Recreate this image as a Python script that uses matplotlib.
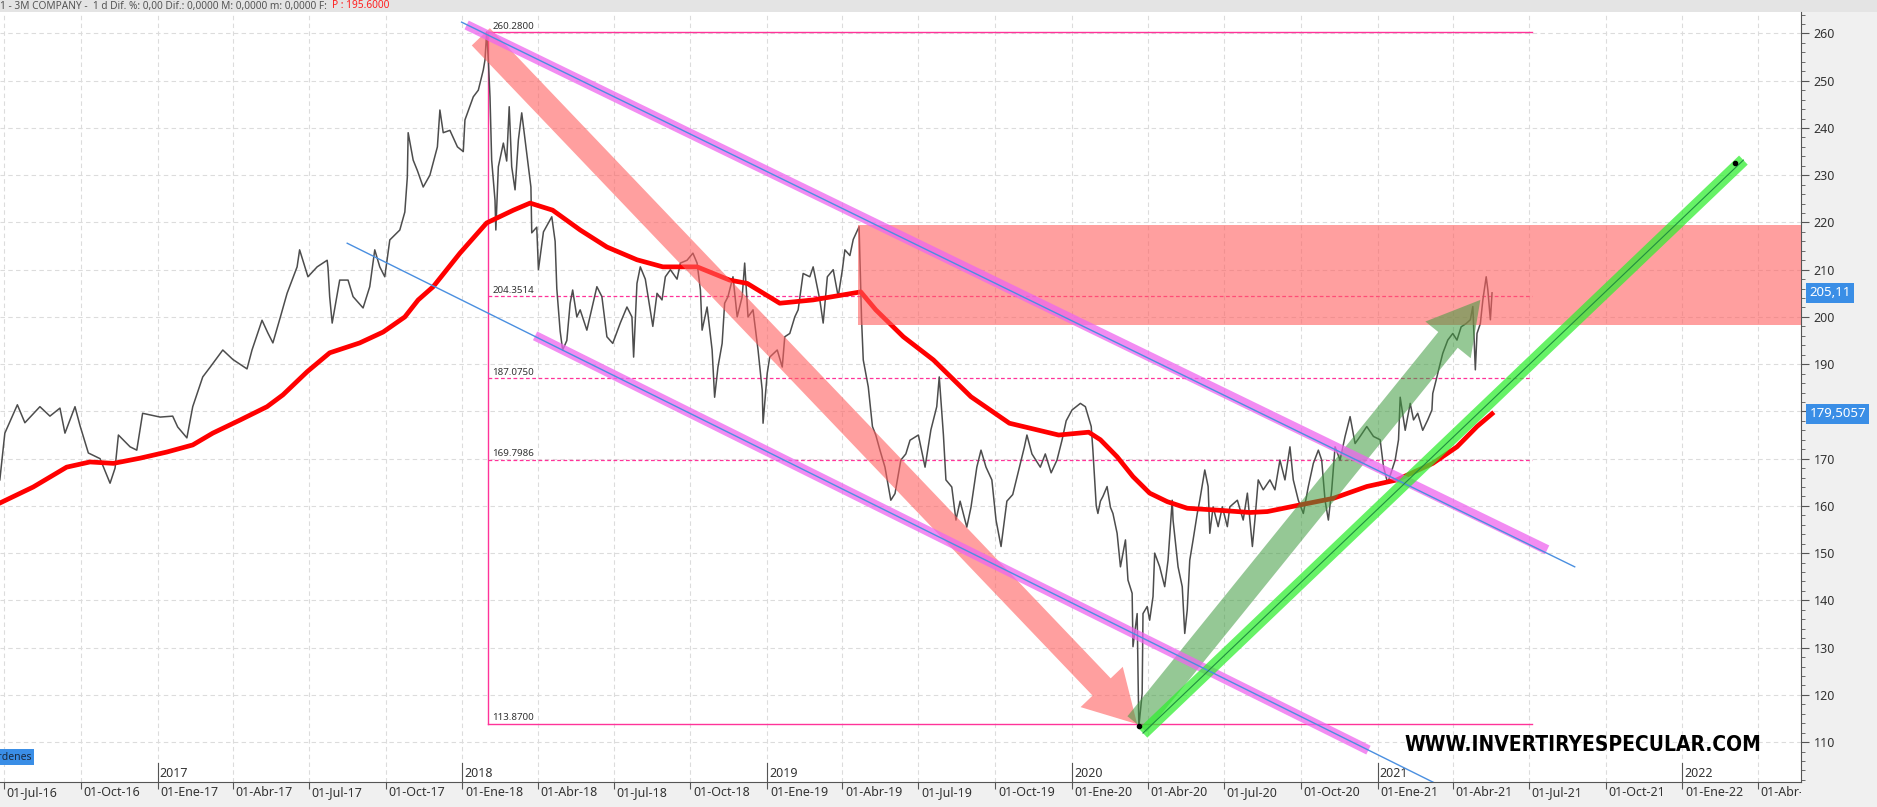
import pandas as pd
import matplotlib
matplotlib.use('Agg')
import matplotlib.pyplot as plt
from matplotlib.patches import FancyArrowPatch, ArrowStyle, Rectangle
from matplotlib.ticker import MultipleLocator
from matplotlib.transforms import Bbox, TransformedBbox
from matplotlib import font_manager

# ---- datos (dias desde 01-Jul-16) ----
base = pd.Timestamp('2016-07-01')

price_day = [-5, 1, 16, 25, 43, 55, 67, 73, 85, 91, 101, 115, 127, 133, 137, 151, 159, 166, 187, 202,
             208, 219, 226, 238, 247, 262, 274, 291, 297, 309, 316, 322, 331, 339, 351, 354, 364, 375, 387, 388,
             390, 393, 402, 412, 418, 430, 438, 444, 450, 456, 462, 474, 480, 483, 484, 490, 495, 502, 510, 519,
             522, 526, 534, 543, 550, 552, 562, 568, 574, 576, 578, 580, 582, 584, 588, 589, 592, 598, 602, 605,
             608, 612, 616, 620, 624, 628, 631, 632, 638, 640, 646, 656, 660, 662, 666, 669, 674, 678, 681, 686,
             690, 698, 710, 716, 722, 729, 738, 746, 752, 754, 758, 762, 768, 774, 777, 782, 788, 792, 798, 806,
             810, 818, 825, 830, 834, 836, 842, 848, 851, 855, 860, 863, 867, 873, 878, 884, 887, 891, 897, 903,
             908, 909, 914, 917, 926, 932, 935, 941, 947, 951, 957, 965, 969, 977, 981, 986, 993, 999, 1004, 1007,
             1013, 1017, 1024, 1027, 1029, 1035, 1040, 1044, 1049, 1055, 1062, 1067, 1074, 1080, 1085, 1095, 1103, 1110, 1117, 1120,
             1125, 1128, 1135, 1140, 1145, 1153, 1158, 1165, 1170, 1176, 1183, 1188, 1194, 1201, 1208, 1216, 1222, 1225, 1231, 1241,
             1247, 1254, 1261, 1267, 1272, 1279, 1289, 1295, 1302, 1304, 1308, 1310, 1313, 1316, 1321, 1325, 1328, 1333, 1337, 1343,
             1346, 1351, 1352, 1357, 1359, 1363, 1364, 1369, 1372, 1376, 1378, 1384, 1390, 1394, 1399, 1400, 1406, 1411, 1414, 1417,
             1420, 1424, 1429, 1432, 1438, 1442, 1444, 1448, 1454, 1459, 1465, 1468, 1477, 1484, 1489, 1495, 1498, 1502, 1508, 1516,
             1522, 1528, 1534, 1540, 1544, 1550, 1556, 1562, 1568, 1574, 1578, 1582, 1586, 1590, 1594, 1600, 1606, 1612, 1618, 1624,
             1632, 1640, 1648, 1652, 1657, 1666, 1670, 1672, 1678, 1684, 1688, 1693, 1699, 1705, 1710, 1711, 1715, 1719, 1723, 1729,
             1735, 1740, 1745, 1751, 1756, 1759, 1762, 1764, 1768, 1771, 1775, 1777, 1780, 1782]
price_val = [165.5, 175.4, 181.4, 177.6, 181.0, 179.0, 180.7, 175.4, 181.0, 177.0, 171.2, 170.0, 164.8, 168.0, 175.0, 172.5, 171.8, 179.6, 178.8, 179.0,
             176.7, 174.4, 181.0, 187.3, 189.4, 193.0, 191.0, 189.0, 193.0, 199.3, 196.6, 194.5, 200.0, 205.0, 210.6, 214.2, 208.5, 210.6, 212.0, 210.4,
             204.3, 198.7, 207.8, 207.8, 204.3, 201.9, 206.4, 214.2, 210.6, 208.5, 216.3, 218.4, 222.2, 229.6, 239.0, 233.2, 231.0, 227.5, 230.0, 236.0,
             243.8, 239.0, 239.5, 236.0, 235.0, 241.7, 246.6, 248.0, 252.3, 254.4, 260.3, 254.4, 246.6, 233.2, 224.7, 218.4, 231.8, 236.8, 233.0, 244.5,
             231.8, 226.9, 237.5, 243.2, 237.5, 231.8, 227.5, 217.8, 219.0, 210.0, 218.0, 221.2, 216.0, 206.0, 197.0, 193.0, 195.0, 202.9, 205.7, 200.0,
             201.5, 197.2, 206.4, 204.3, 195.8, 194.4, 198.7, 202.1, 200.0, 191.5, 207.1, 210.6, 208.0, 201.4, 198.0, 205.0, 203.6, 208.5, 210.0, 208.0,
             211.4, 212.0, 213.5, 211.4, 205.7, 197.2, 202.1, 193.0, 183.0, 189.4, 194.4, 202.9, 204.3, 208.5, 200.0, 204.3, 211.4, 200.0, 201.5, 193.0,
             184.5, 177.5, 188.1, 191.5, 193.0, 189.4, 195.8, 196.5, 200.0, 201.5, 209.2, 208.5, 210.6, 203.6, 198.7, 208.5, 210.0, 204.3, 210.0, 214.2,
             213.0, 216.4, 219.1, 199.3, 190.9, 185.2, 176.8, 175.0, 171.8, 168.2, 161.2, 162.6, 169.7, 171.0, 173.9, 175.0, 168.2, 176.1, 181.0, 187.3,
             175.0, 165.5, 164.0, 157.0, 161.0, 155.5, 159.7, 168.2, 171.8, 168.2, 165.5, 157.0, 151.4, 161.0, 162.4, 168.2, 172.5, 175.0, 171.0, 168.2,
             171.0, 167.0, 169.7, 173.9, 178.0, 180.3, 181.7, 181.0, 176.8, 171.8, 160.0, 158.4, 161.0, 162.0, 164.1, 159.7, 158.4, 154.2, 147.1, 152.8,
             144.3, 141.5, 130.2, 137.2, 113.2, 120.3, 137.2, 138.7, 135.8, 140.8, 150.0, 147.1, 142.9, 148.5, 161.2, 157.0, 147.1, 142.9, 133.0, 138.0,
             148.5, 152.8, 158.4, 161.2, 167.6, 164.1, 154.2, 159.8, 155.6, 159.8, 155.6, 159.8, 161.2, 157.0, 162.7, 151.4, 157.0, 165.5, 163.4, 165.5,
             163.4, 169.7, 165.5, 172.5, 165.5, 161.2, 158.4, 164.1, 169.0, 171.8, 169.7, 161.2, 157.0, 163.4, 172.5, 169.7, 174.7, 178.9, 173.2, 174.7,
             176.8, 174.7, 174.0, 168.3, 164.8, 169.7, 174.0, 183.0, 176.0, 181.7, 178.2, 179.6, 176.0, 178.2, 180.3, 183.8, 186.6, 189.5, 192.3, 195.1,
             196.5, 195.1, 197.9, 198.6, 199.4, 202.2, 188.8, 196.5, 198.6, 203.6, 208.5, 205.7, 199.4, 205.1]

# media movil (linea roja)
ma_day = [-5, 35, 75, 103, 131, 163, 195, 226, 250, 283, 315, 334, 363, 390, 426, 454, 480, 496, 514, 546,
          578, 610, 630, 657, 690, 722, 758, 789, 830, 869, 890, 929, 969, 1026, 1044, 1077, 1113, 1158, 1204, 1263,
          1299, 1313, 1333, 1352, 1372, 1393, 1417, 1453, 1492, 1513, 1552, 1592, 1632, 1668, 1711, 1740, 1764, 1782]
ma_val = [160.6, 164.0, 168.2, 169.3, 169.0, 170.1, 171.4, 172.9, 175.4, 178.2, 181.0, 183.5, 188.4, 192.4, 194.5, 196.8, 200.0, 203.6, 206.4, 213.5,
          219.9, 222.6, 224.1, 222.6, 218.4, 214.8, 212.1, 210.6, 210.6, 207.8, 207.1, 202.9, 203.6, 205.3, 201.5, 195.8, 190.9, 183.1, 177.5, 175.0,
          175.6, 174.0, 170.4, 166.2, 162.7, 160.9, 159.5, 159.1, 158.6, 158.8, 160.2, 161.6, 164.1, 165.5, 169.0, 172.5, 176.8, 179.5]

# retroceso de Fibonacci
fib_levels = [260.28, 204.3514, 187.075, 169.7986, 113.87]
fib_labels = ['260.2800', '204.3514', '187.0750', '169.7986', '113.8700']
fib_span = [580, 1830]

# zona de resistencia
zone_start = 1023
zone_low, zone_high = 198.2, 219.5

# lineas de tendencia y flechas (dia, valor)
upper_band_day, upper_band_val = [554, 1848], [261.8, 150.7]
upper_blue_day, upper_blue_val = [548, 1881], [262.4, 147.1]
lower_band_day, lower_band_val = [636, 1634], [196.0, 108.3]
lower_blue_day, lower_blue_val = [411, 1732], [215.6, 99.7]
green_day, green_val = [1364, 2083], [111.9, 233.2]
dot_day, dot_val = [1359, 2073], [113.3, 232.6]
red_arrow_day, red_arrow_val = [571, 1357], [259.3, 113.8]
green_arrow_day, green_arrow_val = [1357, 1768], [113.8, 203.6]

last_price = 205.11
last_ma = 179.5057

meses = {1: 'Ene', 4: 'Abr', 7: 'Jul', 10: 'Oct'}
quarters = pd.date_range('2016-07-01', '2022-04-01', freq='QS')
years = [2017, 2018, 2019, 2020, 2021, 2022]

# ---- figura ----
W, H = 1877, 807
plt.rcParams['font.family'] = ['Noto Sans', 'DejaVu Sans']
fig = plt.figure(figsize=(W / 100, H / 100), dpi=100)


def fx(px):
    return px / W


def fy(py):
    return 1 - py / H


# paneles grises
fig.add_artist(Rectangle((fx(1801), 0), 1 - fx(1801), 1, transform=fig.transFigure,
                         fc='#f0f0f0', ec='none', zorder=-2))
fig.add_artist(Rectangle((0, 0), 1, fy(782), transform=fig.transFigure,
                         fc='#f0f0f0', ec='none', zorder=-2))
fig.add_artist(Rectangle((0, fy(12)), 1, 12 / H, transform=fig.transFigure,
                         fc='#e4e4e4', ec='none', zorder=-2))

ax = fig.add_axes([0, fy(782), fx(1801), (782 - 12) / H])
ax.set_xlim(-4.8, 2152)
ax.set_ylim(101.55, 264.55)

for s in ['top', 'left']:
    ax.spines[s].set_visible(False)
ax.spines['right'].set_color('#555555')
ax.spines['bottom'].set_color('#555555')

# eje y a la derecha
ax.yaxis.tick_right()
ax.set_yticks(range(110, 261, 10))
ax.yaxis.set_minor_locator(MultipleLocator(2))
ax.tick_params(axis='y', which='major', length=6, color='#555555', labelsize=9, labelcolor='#333333', pad=3)
ax.tick_params(axis='y', which='minor', length=3, color='#555555')

# eje x: trimestres
q_days = [(d - base).days for d in quarters]
ax.set_xticks(q_days)
ax.set_xticklabels([])
ax.tick_params(axis='x', length=5, color='#555555')
ax.grid(True, which='major', color='#dcdcdc', linestyle=(0, (4, 3)), lw=0.8)

clip = TransformedBbox(Bbox([[0, 0], [fx(1801), 1]]), fig.transFigure)
for d, qd in zip(quarters, q_days):
    lab = '01-%s-%s' % (meses[d.month], d.strftime('%y'))
    t = ax.annotate(lab, xy=(qd, 0), xycoords=ax.get_xaxis_transform(), xytext=(2, -3),
                    textcoords='offset points', ha='left', va='top', fontsize=9, color='#333333',
                    annotation_clip=False)
    t.set_clip_box(clip)
    t.set_clip_on(True)

for y in years:
    yd = (pd.Timestamp('%d-01-01' % y) - base).days
    ax.plot([yd, yd], [0, 0.025], transform=ax.get_xaxis_transform(), color='#555555', lw=0.8, clip_on=False)
    ax.annotate(str(y), xy=(yd, 0), xycoords=ax.get_xaxis_transform(), xytext=(1.5, 1.5),
                textcoords='offset points', ha='left', va='bottom', fontsize=9, color='#333333')

# Fibonacci
fib_col = '#ff3399'
ax.plot(fib_span, [fib_levels[0]] * 2, color=fib_col, lw=1, zorder=2)
ax.plot(fib_span, [fib_levels[-1]] * 2, color=fib_col, lw=1, zorder=2)
ax.plot([fib_span[0]] * 2, [fib_levels[-1], fib_levels[0]], color=fib_col, lw=1, zorder=2)
for lv in fib_levels[1:-1]:
    ax.plot(fib_span, [lv] * 2, color=fib_col, lw=0.9, linestyle=(0, (3, 2)), zorder=2)
for lv, lab in zip(fib_levels, fib_labels):
    ax.annotate(lab, xy=(fib_span[0], lv), xytext=(3, 1), textcoords='offset points',
                ha='left', va='bottom', fontsize=7, color='#333333')

# precio y media
ax.plot(price_day, price_val, color='#4d4d4d', lw=1.1, zorder=3)
ax.plot(ma_day, ma_val, color='#ff0000', lw=3.4, zorder=3.5)

# zona roja
ax.add_patch(Rectangle((zone_start, zone_low), 2300 - zone_start, zone_high - zone_low,
                       fc='#ff5f5f', ec='none', alpha=0.6, zorder=4))

# canal bajista
ax.plot(upper_band_day, upper_band_val, color='#ee66ee', lw=7, alpha=0.75, solid_capstyle='butt', zorder=6)
ax.plot(upper_blue_day, upper_blue_val, color='#4a8fe0', lw=1, zorder=7)
ax.plot(lower_band_day, lower_band_val, color='#ee66ee', lw=7, alpha=0.75, solid_capstyle='butt', zorder=6)
ax.plot(lower_blue_day, lower_blue_val, color='#4a8fe0', lw=1, zorder=7)

# flechas
style = ArrowStyle.Simple(head_length=37, head_width=42, tail_width=18)
ax.add_patch(FancyArrowPatch((red_arrow_day[0], red_arrow_val[0]), (red_arrow_day[1], red_arrow_val[1]),
                             arrowstyle=style, mutation_scale=1, fc='#ff5f5f', ec='none', alpha=0.6,
                             shrinkA=0, shrinkB=0, zorder=5))
ax.add_patch(FancyArrowPatch((green_arrow_day[0], green_arrow_val[0]), (green_arrow_day[1], green_arrow_val[1]),
                             arrowstyle=style, mutation_scale=1, fc='#3f9b3f', ec='none', alpha=0.55,
                             shrinkA=0, shrinkB=0, zorder=5))

# soporte alcista verde
ax.plot(green_day, green_val, color='#33ee33', lw=9, alpha=0.75, solid_capstyle='butt', zorder=6)
ax.plot(green_day, green_val, color='#1f8f3f', lw=0.8, zorder=7)
ax.plot(dot_day, dot_val, 'o', color='black', ms=3, zorder=8)

# etiquetas eje derecho
for val, lab in [(last_price, '205,11'), (last_ma, '179,5057')]:
    ax.annotate(lab, xy=(1, val), xycoords=('axes fraction', 'data'), xytext=(6, 0),
                textcoords='offset points', ha='left', va='center', fontsize=9.5, color='white',
                bbox=dict(boxstyle='square,pad=0.25', fc='#3a8ee6', ec='none'), annotation_clip=False)

# cabecera
fig.text(fx(0), fy(6), '1 - 3M COMPANY -  1 d Dif. %: 0,00 Dif.: 0,0000 M: 0,0000 m: 0,0000 F:',
         fontsize=7.3, color='#555555', ha='left', va='center')
fig.text(fx(332), fy(6), 'P : 195.6000', fontsize=7.3, color='#ff2020', ha='left', va='center')

# marca de agua (fuente estrecha si existe)
installed = {f.name for f in font_manager.fontManager.ttflist}
wm_family = 'DejaVu Sans'
wm_stretch = 'normal'
wm_size = 12.5
for name in ['Liberation Sans Narrow', 'DejaVu Sans Condensed']:
    if name in installed:
        wm_family, wm_size = name, 15
        break
else:
    if any(f.name == 'DejaVu Sans' and f.stretch == 'condensed' for f in font_manager.fontManager.ttflist):
        wm_stretch, wm_size = 'condensed', 15
fig.text(fx(1583), fy(745), 'WWW.INVERTIRYESPECULAR.COM', ha='center', va='center', fontsize=wm_size,
         fontweight='bold', family=wm_family, fontstretch=wm_stretch, color='black')

fig.text(fx(-9), fy(757), 'órdenes', ha='left', va='center', fontsize=7.5, color='#1a2a40',
         bbox=dict(boxstyle='square,pad=0.25', fc='#3a8ee6', ec='none'))

fig.savefig('out.png', dpi=100)
